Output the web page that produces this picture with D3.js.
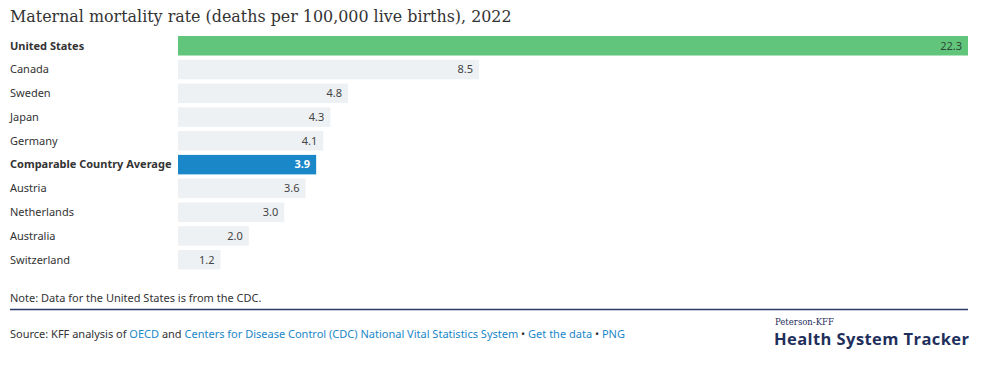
<!DOCTYPE html>
<html><head><meta charset="utf-8">
<script src="https://cdn.jsdelivr.net/npm/d3@7"></script>
<style>body{margin:0;background:#fff}svg{display:block}</style>
</head><body><svg id="c" width="1000" height="367"></svg>
<script>
const categories = ["United States","Canada","Sweden","Japan","Germany","Comparable Country Average","Austria","Netherlands","Australia","Switzerland"];
const values = [22.3,8.5,4.8,4.3,4.1,3.9,3.6,3.0,2.0,1.2];
const highlight = {"United States":"us","Comparable Country Average":"avg"};

const svg = d3.select("#c");
const sans = "'Noto Sans', 'Open Sans', sans-serif";
svg.append("text").attr("x",10).attr("y",22).attr("font-family","'DejaVu Serif', serif")
  .attr("font-size",15.9).attr("fill","#333").text("Maternal mortality rate (deaths per 100,000 live births), 2022");

const x = d3.scaleLinear().domain([0,22.3]).range([178,968]);
const y = d3.scaleBand().domain(categories).range([36,269.5]).paddingInner(0.18).paddingOuter(0.0);

const g = svg.append("g");
const rows = g.selectAll("g").data(categories).join("g");
rows.append("rect").attr("x",x(0)).attr("y",d=>y(d)).attr("height",y.bandwidth())
  .attr("width",(d,i)=>x(values[i])-x(0))
  .attr("fill",d=>highlight[d]==="us"?"#62c57c":highlight[d]==="avg"?"#1a87c8":"#edf1f4");
rows.append("text").attr("x",10).attr("y",d=>y(d)+y.bandwidth()/2).attr("dy","0.35em")
  .attr("font-family",sans).attr("font-size",11).attr("fill","#333")
  .attr("font-weight",d=>highlight[d]?"bold":"normal").text(d=>d);
rows.append("text").attr("x",(d,i)=>x(values[i])-6).attr("y",d=>y(d)+y.bandwidth()/2).attr("dy","0.35em")
  .attr("text-anchor","end").attr("font-family",sans).attr("font-size",11)
  .attr("font-weight",d=>highlight[d]==="avg"?"bold":"normal")
  .attr("fill",d=>highlight[d]==="us"?"#2a4a35":highlight[d]==="avg"?"#fff":"#444")
  .text((d,i)=>values[i].toFixed(1));

svg.append("text").attr("x",10).attr("y",301.5).attr("font-family",sans).attr("font-size",11).attr("fill","#333")
  .text("Note: Data for the United States is from the CDC.");
svg.append("line").attr("x1",10).attr("x2",968).attr("y1",309.5).attr("y2",309.5).attr("stroke","#2b3a67").attr("stroke-width",1.3);

const src = svg.append("text").attr("x",10).attr("y",338.3).attr("font-family",sans).attr("font-size",11).attr("fill","#333");
const parts = [["Source: KFF analysis of ","#333"],["OECD","#1a87c8"],[" and ","#333"],["Centers for Disease Control (CDC) National Vital Statistics System","#1a87c8"],[" • ","#333"],["Get the data","#1a87c8"],[" • ","#333"],["PNG","#1a87c8"]];
parts.forEach(p=>src.append("tspan").attr("fill",p[1]).text(p[0]));

svg.append("text").attr("x",775).attr("y",324.5).attr("font-family","'DejaVu Serif', serif").attr("font-size",8.5).attr("fill","#1f2f5c").text("Peterson-KFF");
svg.append("text").attr("x",774).attr("y",345).attr("font-family","'Open Sans', sans-serif").attr("font-weight","bold").attr("font-size",16.5).attr("fill","#1f2f5c").attr("textLength",195).text("Health System Tracker");
</script></body></html>
